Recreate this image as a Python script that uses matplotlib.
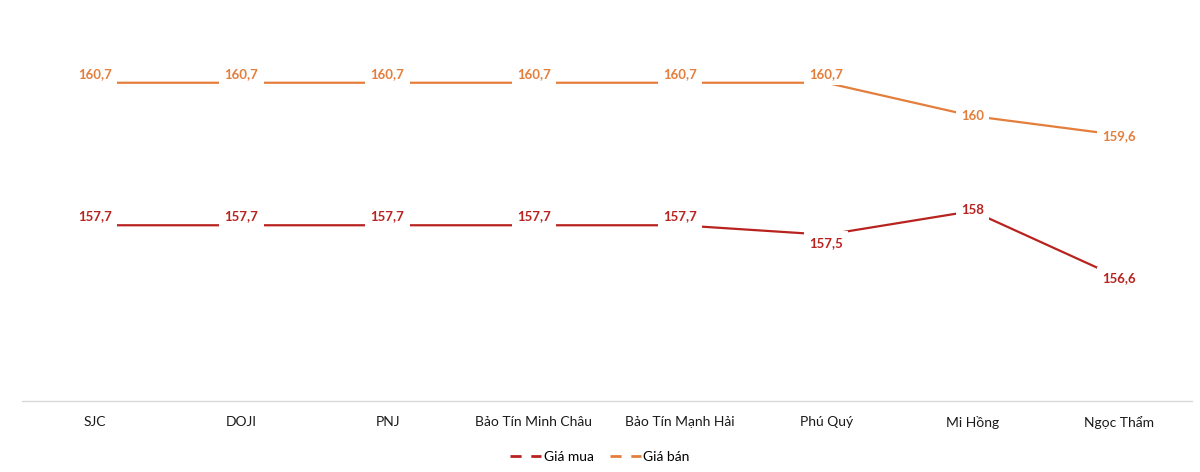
import matplotlib.pyplot as plt
from matplotlib.lines import Line2D

# data
shops = ['SJC', 'DOJI', 'PNJ', 'Bảo Tín Minh Châu', 'Bảo Tín Mạnh Hải',
         'Phú Quý', 'Mi Hồng', 'Ngọc Thẩm']
gia_mua = [157.7, 157.7, 157.7, 157.7, 157.7, 157.5, 158.0, 156.6]
gia_ban = [160.7, 160.7, 160.7, 160.7, 160.7, 160.7, 160.0, 159.6]

# label offsets (px up) for each point
off_mua = [9, 9, 9, 9, 9, -8, 1, -1]
off_ban = [9, 9, 9, 9, 9, 9, 0, -1]

red = '#B8231F'
orange = '#E47E3C'

plt.rcParams['font.family'] = ['Lato', 'DejaVu Sans']

fig = plt.figure(figsize=(12, 4.72), dpi=100)
ax = fig.add_axes([0.0183, 0.1504, 0.975, 0.8051])

x = range(len(shops))
ax.plot(x, gia_mua, color=red, lw=1.6, zorder=2)
ax.plot(x, gia_ban, color=orange, lw=1.6, zorder=2)

def fmt(v):
    s = ('%.1f' % v).rstrip('0').rstrip('.')
    return s.replace('.', ',')

for vals, offs, col in [(gia_mua, off_mua, red), (gia_ban, off_ban, orange)]:
    for i, v in enumerate(vals):
        ax.annotate(fmt(v), (i, v), xytext=(0, offs[i] * 0.72),
                    textcoords='offset points', ha='center', va='center',
                    fontsize=9.5, fontweight='bold', color=col, zorder=3,
                    bbox=dict(boxstyle='square,pad=0.4', fc='white', ec='none'))

ax.set_xlim(-0.5, len(shops) - 0.5)
ax.set_ylim(154, 162)
ax.set_xticks(list(x))
ax.set_xticklabels(shops, fontsize=10, color='#1a1a1a')
ax.tick_params(axis='x', length=0, pad=11)
ax.set_yticks([])
for s in ['top', 'right', 'left']:
    ax.spines[s].set_visible(False)
ax.spines['bottom'].set_color('#D9D9D9')
ax.spines['bottom'].set_linewidth(1)

handles = [Line2D([], [], color=red, lw=2, dashes=(4, 3.5)),
           Line2D([], [], color=orange, lw=2, dashes=(4, 3.5))]
fig.legend(handles, ['Giá mua', 'Giá bán'], loc='center',
           bbox_to_anchor=(0.5, 0.032), ncol=2, frameon=False, fontsize=10,
           handlelength=2.2, handletextpad=0.2, columnspacing=1.2)

fig.savefig('out.png', dpi=100)
